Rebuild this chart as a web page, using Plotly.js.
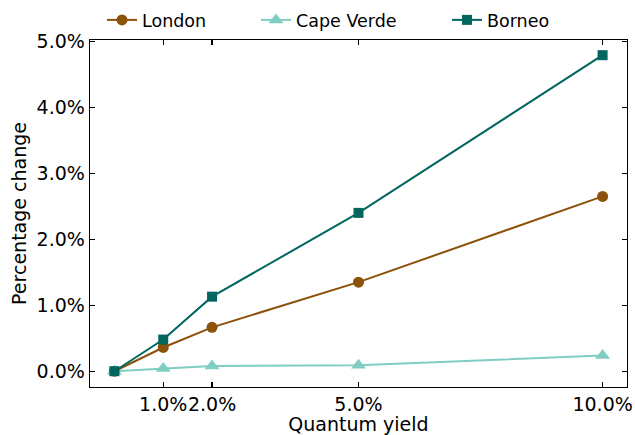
<!DOCTYPE html>
<html><head><meta charset="utf-8">
<script src="https://cdn.plot.ly/plotly-3.0.1.min.js"></script>
<style>body{margin:0}#chart{width:635px;height:435px}</style>
</head><body><div id="chart"></div>
<script>
const quantumYield = [0, 1, 2, 5, 10];
const xTickVals = [1, 2, 5, 10];
const xTickText = ['1.0%', '2.0%', '5.0%', '10.0%'];
const yTickVals = [0, 1, 2, 3, 4, 5];
const yTickText = ['0.0%', '1.0%', '2.0%', '3.0%', '4.0%', '5.0%'];
const london = [0, 0.36, 0.665, 1.35, 2.65];
const capeVerde = [0, 0.04, 0.08, 0.09, 0.24];
const borneo = [0, 0.48, 1.13, 2.40, 4.79];

const mk = (name, y, color, symbol, size, lg) => ({
  x: quantumYield, y: y, name: name, type: 'scatter', mode: 'lines+markers',
  legend: lg,
  line: {color: color, width: 2},
  marker: {color: color, symbol: symbol, size: size}
});
const data = [
  mk('London', london, '#8c510a', 'circle', 11, 'legend'),
  mk('Cape Verde', capeVerde, '#80cdc1', 'triangle-up', 13, 'legend2'),
  mk('Borneo', borneo, '#01665e', 'square', 10, 'legend3')
];
const FS = 19, LFS = 17.5;
const axisCommon = {
  showline: true, linecolor: '#000', linewidth: 1.3, mirror: 'allticks',
  ticks: 'inside', ticklen: 5, tickwidth: 1.3, tickcolor: '#000',
  showgrid: false, zeroline: false, tickangle: 0,
  tickfont: {size: FS, color: '#000'}
};
const plotW = 635 - 90 - 8, plotH = 435 - 40 - 48;
const lgY = 1 + 20 / plotH;
const mkLegend = (px) => ({orientation: 'h', x: (px - 90) / plotW, xanchor: 'left',
  y: lgY, yanchor: 'middle', font: {size: LFS}, bgcolor: 'rgba(0,0,0,0)', borderwidth: 0});
const layout = {
  width: 635, height: 435,
  margin: {l: 90, r: 8, t: 40, b: 48, autoexpand: false},
  paper_bgcolor: '#fff', plot_bgcolor: '#fff',
  font: {family: 'DejaVu Sans', color: '#000', size: FS},
  showlegend: true,
  legend: mkLegend(102),
  legend2: mkLegend(256),
  legend3: mkLegend(447),
  xaxis: Object.assign({}, axisCommon, {
    range: [-0.5, 10.5], tickmode: 'array', tickvals: xTickVals, ticktext: xTickText,
    title: {text: 'Quantum yield', font: {size: FS}, standoff: 0}
  }),
  yaxis: Object.assign({}, axisCommon, {
    range: [-0.239, 5.02], tickmode: 'array', tickvals: yTickVals, ticktext: yTickText,
    title: {text: 'Percentage change', font: {size: FS}, standoff: 5}
  })
};
Plotly.newPlot('chart', data, layout, {displayModeBar: false, staticPlot: true});
</script></body></html>
